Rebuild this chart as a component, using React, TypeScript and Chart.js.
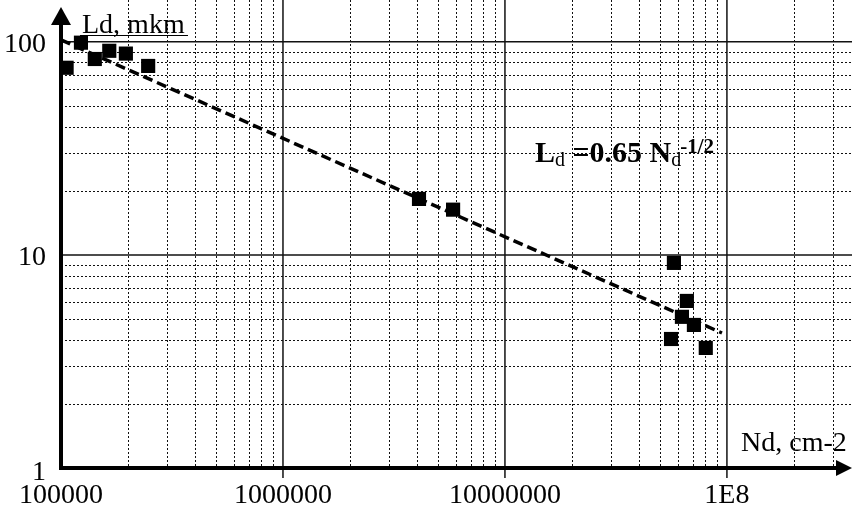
import React, { useEffect, useRef } from "react";
import { Chart, registerables } from "chart.js";

Chart.register(...registerables);

// Measured points (Nd, cm-2 ; Ld, mkm)
const ndValues = [1.06e5, 1.23e5, 1.42e5, 1.65e5, 1.96e5, 2.47e5, 4.1e6, 5.84e6, 5.77e7, 6.6e7, 6.27e7, 7.1e7, 5.6e7, 8.03e7];
const ldValues = [75.5, 99, 83, 90.7, 88, 77, 18.3, 16.3, 9.17, 6.08, 5.12, 4.69, 4.03, 3.66];

// Fit line Ld = 0.65 Nd^-1/2 (as drawn)
const fitNd = [1e5, 9.5e7];
const fitLd = [102, 4.3];

// Axis ticks
const xMajorTicks = [1e5, 1e6, 1e7, 1e8];
const xTickLabels = ["100000", "1000000", "10000000", "1E8"];
const yMajorTicks = [1, 10, 100];
const yTickLabels = ["1", "10", "100"];
const minorMultipliers = [2, 3, 4, 5, 6, 7, 8, 9];

const X_MIN = 1e5;
const X_MAX = 3.66e8;
const Y_MIN = 1;
const Y_MAX = 157;

const SERIF = '"Liberation Serif", "Times New Roman", serif';

const drawPlugin = {
  id: "customAxes",
  beforeDatasetsDraw(chart: any) {
    const { ctx, chartArea } = chart;
    const xs = chart.scales.x;
    const ys = chart.scales.y;
    const left = chartArea.left;
    const right = chartArea.right;
    const top = chartArea.top;
    const bottom = chartArea.bottom;
    ctx.save();

    // minor grid (dotted)
    ctx.strokeStyle = "#111";
    ctx.lineWidth = 1;
    ctx.setLineDash([2, 2]);
    for (let d = 1e5; d <= 1e8; d *= 10) {
      for (const m of minorMultipliers) {
        const v = d * m;
        if (v > X_MAX) continue;
        const px = Math.round(xs.getPixelForValue(v)) + 0.5;
        ctx.beginPath();
        ctx.moveTo(px, top);
        ctx.lineTo(px, bottom);
        ctx.stroke();
      }
    }
    for (let d = 1; d <= 10; d *= 10) {
      for (const m of minorMultipliers) {
        const v = d * m;
        const py = Math.round(ys.getPixelForValue(v)) + 0.5;
        ctx.beginPath();
        ctx.moveTo(left, py);
        ctx.lineTo(right, py);
        ctx.stroke();
      }
    }

    // major grid (solid)
    ctx.setLineDash([]);
    ctx.strokeStyle = "#111";
    ctx.lineWidth = 1.5;
    for (const v of xMajorTicks) {
      if (v === X_MIN) continue;
      const px = xs.getPixelForValue(v);
      ctx.beginPath();
      ctx.moveTo(px, top);
      ctx.lineTo(px, bottom + 10);
      ctx.stroke();
    }
    for (const v of yMajorTicks) {
      if (v === Y_MIN) continue;
      const py = ys.getPixelForValue(v);
      ctx.beginPath();
      ctx.moveTo(left, py);
      ctx.lineTo(right, py);
      ctx.stroke();
    }

    // axes
    ctx.strokeStyle = "#000";
    ctx.fillStyle = "#000";
    ctx.lineWidth = 4;
    const x0 = xs.getPixelForValue(X_MIN);
    const y0 = ys.getPixelForValue(Y_MIN);
    ctx.beginPath();
    ctx.moveTo(x0, y0 + 2);
    ctx.lineTo(x0, 20);
    ctx.stroke();
    ctx.beginPath();
    ctx.moveTo(x0 - 2, y0);
    ctx.lineTo(right - 12, y0);
    ctx.stroke();
    // arrowheads
    ctx.beginPath();
    ctx.moveTo(x0, 7);
    ctx.lineTo(x0 - 10, 25);
    ctx.lineTo(x0 + 10, 25);
    ctx.closePath();
    ctx.fill();
    ctx.beginPath();
    ctx.moveTo(right, y0);
    ctx.lineTo(right - 16, y0 - 8);
    ctx.lineTo(right - 16, y0 + 8);
    ctx.closePath();
    ctx.fill();

    // tick labels
    ctx.font = `28px ${SERIF}`;
    ctx.textAlign = "center";
    ctx.textBaseline = "alphabetic";
    xMajorTicks.forEach((v, i) => {
      ctx.fillText(xTickLabels[i], xs.getPixelForValue(v), 503);
    });
    ctx.textAlign = "right";
    yMajorTicks.forEach((v, i) => {
      const py = ys.getPixelForValue(v);
      ctx.fillText(yTickLabels[i], 46, py + (v === 1 ? 12 : 10));
    });

    // axis titles
    ctx.textAlign = "left";
    ctx.fillText("Ld, mkm", 82, 33);
    ctx.lineWidth = 1;
    ctx.beginPath();
    ctx.moveTo(80, 35.5);
    ctx.lineTo(188, 35.5);
    ctx.stroke();
    ctx.fillText("Nd, cm-2", 741, 451);

    // equation
    let x = 535;
    const base = 162;
    const seg = (t: string, font: string, dy: number, dx = 0) => {
      ctx.font = font;
      ctx.fillText(t, x + dx, base + dy);
      x += ctx.measureText(t).width + dx;
    };
    seg("L", `bold 30px ${SERIF}`, 0);
    seg("d", `20px ${SERIF}`, 4);
    seg(" =0.65 N", `bold 30px ${SERIF}`, 0);
    seg("d", `20px ${SERIF}`, 4);
    seg("-1/2", `bold 21px ${SERIF}`, -9, -1);

    ctx.restore();
  },
};

export default function App() {
  const canvasRef = useRef<HTMLCanvasElement | null>(null);

  useEffect(() => {
    if (!canvasRef.current) return;
    const pts = ndValues.map((x, i) => ({ x, y: ldValues[i] }));
    const fit = fitNd.map((x, i) => ({ x, y: fitLd[i] }));
    const chart = new Chart(canvasRef.current, {
      type: "scatter",
      data: {
        datasets: [
          {
            type: "line",
            label: "fit",
            data: fit,
            borderColor: "#000",
            borderWidth: 3.5,
            borderDash: [10, 5],
            pointRadius: 0,
            fill: false,
            clip: false,
          } as any,
          {
            label: "Ld",
            data: pts,
            pointStyle: "rect",
            pointRadius: 10,
            pointBorderWidth: 0,
            backgroundColor: "#000",
            borderColor: "#000",
            clip: false,
          } as any,
        ],
      },
      options: {
        responsive: false,
        animation: false,
        devicePixelRatio: 1,
        layout: { autoPadding: false, padding: { left: 61, right: 0, top: 0, bottom: 42 } },
        plugins: { legend: { display: false }, tooltip: { enabled: false } },
        scales: {
          x: { type: "logarithmic", min: X_MIN, max: X_MAX, display: false },
          y: { type: "logarithmic", min: Y_MIN, max: Y_MAX, display: false },
        },
      },
      plugins: [drawPlugin],
    });
    return () => chart.destroy();
  }, []);

  return (
    <div style={{ position: "fixed", left: 0, top: 0, width: 852, height: 510, background: "#fff" }}>
      <canvas ref={canvasRef} width={852} height={510} style={{ width: 852, height: 510 }} />
    </div>
  );
}
